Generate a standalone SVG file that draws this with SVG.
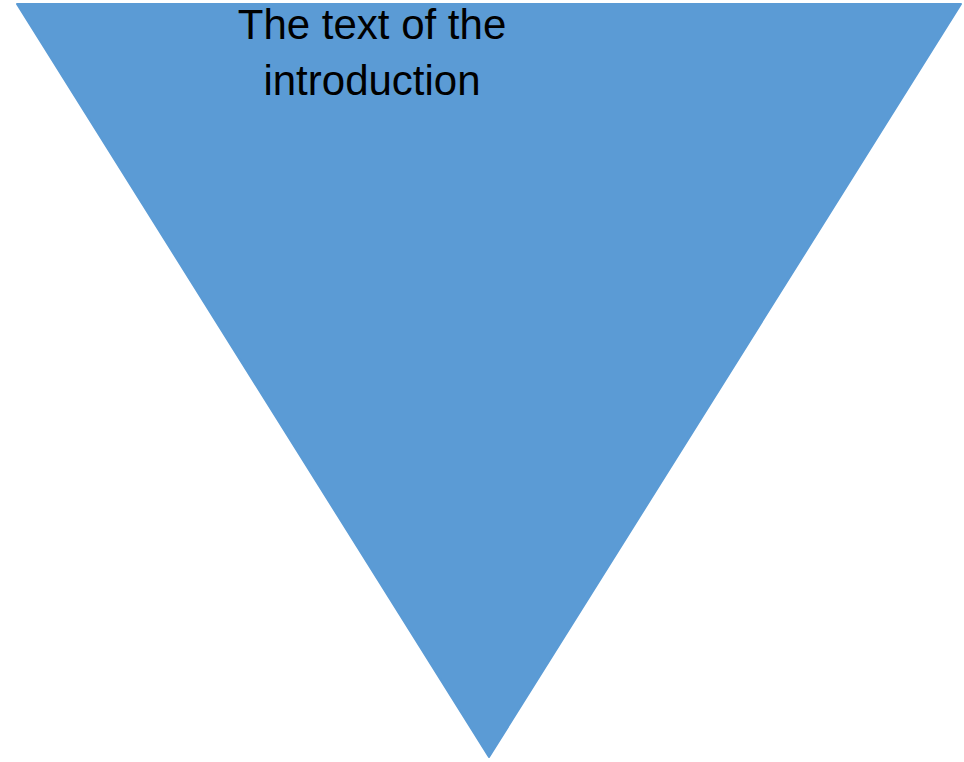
<svg xmlns="http://www.w3.org/2000/svg" width="964" height="762" viewBox="0 0 964 762">
<style>
.lbl{font-family:"Liberation Sans",Arial,sans-serif;font-size:42px;fill:#000;text-anchor:middle}
</style>
<rect width="964" height="762" fill="#fff"/>
<g id="funnel">
<path d="M17,4 L961,4 L489,757 Z" fill="#5B9BD5" stroke="#5B9BD5" stroke-width="2" stroke-linejoin="round"/>
<text class="lbl" x="372" y="39">The text of the</text>
<text class="lbl" x="372" y="95">introduction</text>
</g>
</svg>
